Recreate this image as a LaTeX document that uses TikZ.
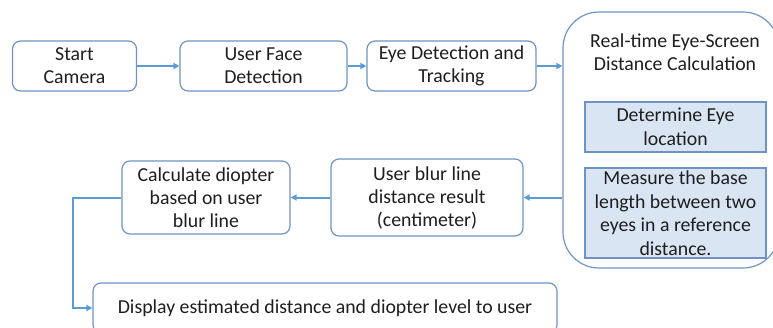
\documentclass[tikz,border=0pt]{standalone}
\usepackage{fontspec}
\setmainfont{Carlito}
\usetikzlibrary{arrows.meta}
\definecolor{bord}{HTML}{6F93C4}
\definecolor{arr}{HTML}{5B9BD5}
\definecolor{fillb}{HTML}{DAE5F4}
\definecolor{txt}{HTML}{1E1E1E}
\begin{document}
\begin{tikzpicture}[x=1pt,y=-1pt,
  box/.style={draw=bord, line width=1.2pt, rounded corners=8pt, align=center,
    font=\fontsize{19.8}{23}\selectfont, text=txt, inner sep=0pt},
  inbox/.style={draw=bord, line width=1.2pt, fill=fillb, align=center,
    font=\fontsize{19.8}{23.5}\selectfont, text=txt, inner sep=0pt},
  flow/.style={draw=arr, line width=2pt, -{Triangle[length=6pt,width=6pt]}}]
\useasboundingbox (0,0) rectangle (773,327);
\clip (0,0) rectangle (773,327);
\node[box, minimum width=124pt, minimum height=50pt] (start) at (74.5,66) {Start\\Camera};
\node[box, minimum width=167pt, minimum height=50pt] (ufd) at (263.5,66) {User Face\\Detection};
\node[box, minimum width=169pt, minimum height=50pt] (edt) at (451.5,66) {Eye Detection and\\Tracking};
\node[box, rounded corners=36pt, minimum width=216pt, minimum height=256pt] (calc) at (671,140) {};
\node[font=\fontsize{19.8}{23}\selectfont, text=txt, align=center, inner sep=0pt] (calctitle) at (675,52) {Real-time Eye-Screen\\Distance Calculation};
\node[inbox, minimum width=181pt, minimum height=50pt] (deye) at (675.5,127) {Determine Eye\\location};
\node[inbox, minimum width=181pt, minimum height=90pt] (meas) at (675.5,213) {Measure the base\\length between two\\eyes in a reference\\distance.};
\node[box, minimum width=192pt, minimum height=77pt] (ublur) at (427,197.5) {User blur line\\distance result\\(centimeter)};
\node[box, minimum width=168pt, minimum height=73pt] (cdiop) at (206,197.5) {Calculate diopter\\based on user\\blur line};
\node[box, minimum width=464pt, minimum height=50pt] (disp) at (325,308) {Display estimated distance and diopter level to user};
\coordinate (bend) at (73,197.5);
\draw[flow] (start.east) -- (ufd.west);
\draw[flow] (ufd.east) -- (edt.west);
\draw[flow] (edt.east) -- (calc.west |- edt.east);
\draw[flow] (calc.west |- ublur.east) -- (ublur.east);
\draw[flow] (ublur.west) -- (cdiop.east);
\draw[flow] (cdiop.west) -- (bend) |- (disp.west);
\end{tikzpicture}
\end{document}
